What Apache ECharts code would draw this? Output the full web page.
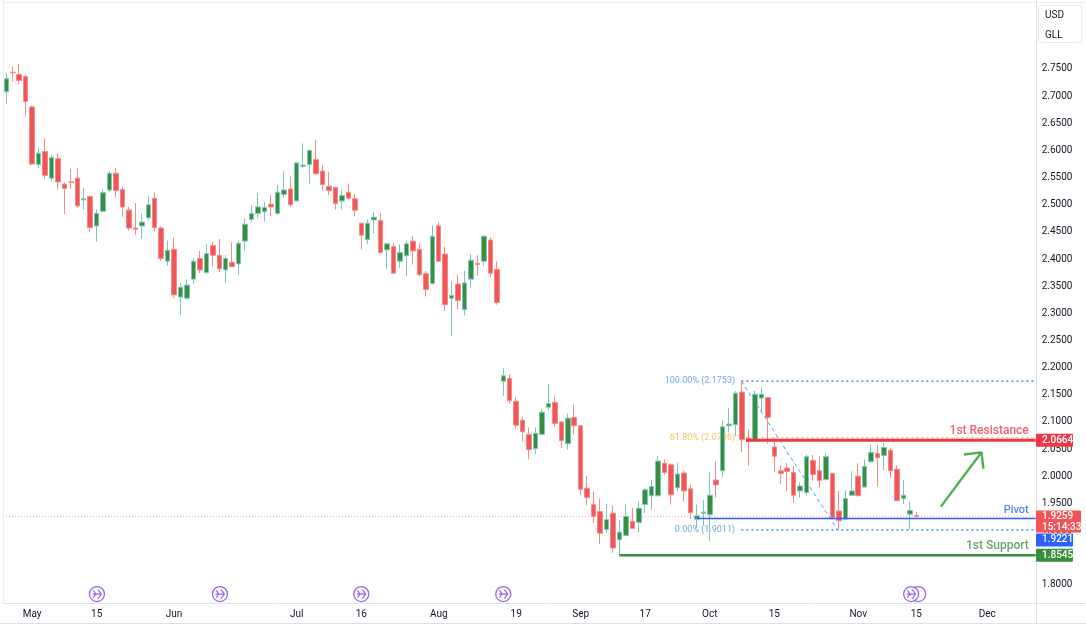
<!DOCTYPE html>
<html>
<head>
<meta charset="utf-8">
<title>USD/GLL</title>
<style>
  html, body { margin: 0; padding: 0; background: #fff; }
  #chart { width: 1086px; height: 625px; }
</style>
<script src="https://cdn.jsdelivr.net/npm/echarts@6/dist/echarts.min.js"></script>
</head>
<body>
<div id="chart"></div>
<script>
var opens = [
  2.708, 2.744, 2.740, 2.736, 2.680, 2.574, 2.598, 2.549, 2.585, 2.538, 2.542, 2.549, 2.509, 2.515, 2.461, 2.488, 2.527, 2.558, 2.528, 2.490,
  2.457, 2.461, 2.476, 2.512, 2.457, 2.396, 2.418, 2.330, 2.328, 2.363, 2.401, 2.375, 2.425, 2.407, 2.380, 2.394, 2.391, 2.433, 2.473, 2.484,
  2.487, 2.501, 2.484, 2.519, 2.529, 2.507, 2.571, 2.574, 2.583, 2.562, 2.534, 2.532, 2.507, 2.523, 2.511, 2.466, 2.436, 2.472, 2.471, 2.417,
  2.423, 2.396, 2.406, 2.433, 2.418, 2.373, 2.355, 2.461, 2.409, 2.328, 2.354, 2.307, 2.363, 2.392, 2.396, 2.435, 2.381, 2.175, 2.180, 2.138,
  2.103, 2.077, 2.051, 2.077, 2.127, 2.136, 2.100, 2.060, 2.108, 2.093, 1.978, 1.948, 1.935, 1.902, 1.932, 1.883, 1.891, 1.917, 1.915, 1.948,
  1.964, 1.964, 2.024, 2.021, 1.979, 2.006, 1.977, 1.921, 1.932, 1.929, 1.993, 2.010, 2.093, 2.095, 2.155, 2.070, 2.065, 2.144, 2.145, 2.054,
  2.010, 2.015, 2.007, 1.973, 1.970, 2.029, 2.010, 1.994, 2.005, 1.936, 1.921, 1.965, 2.000, 1.980, 2.027, 2.042, 2.038, 2.048, 2.013, 1.959,
  1.930, 1.9275
];
var closes = [
  2.732, 2.743, 2.729, 2.690, 2.575, 2.595, 2.554, 2.587, 2.542, 2.530, 2.541, 2.498, 2.511, 2.458, 2.484, 2.522, 2.558, 2.526, 2.496, 2.457,
  2.455, 2.468, 2.500, 2.458, 2.401, 2.416, 2.334, 2.348, 2.352, 2.396, 2.380, 2.410, 2.407, 2.382, 2.401, 2.386, 2.429, 2.464, 2.484, 2.496,
  2.495, 2.496, 2.523, 2.527, 2.500, 2.577, 2.573, 2.600, 2.557, 2.537, 2.526, 2.502, 2.517, 2.512, 2.490, 2.444, 2.466, 2.477, 2.412, 2.428,
  2.374, 2.412, 2.428, 2.415, 2.371, 2.344, 2.442, 2.396, 2.316, 2.333, 2.324, 2.356, 2.398, 2.390, 2.442, 2.374, 2.320, 2.185, 2.139, 2.094,
  2.082, 2.049, 2.079, 2.118, 2.134, 2.097, 2.066, 2.107, 2.093, 1.976, 1.961, 1.926, 1.895, 1.920, 1.868, 1.897, 1.926, 1.904, 1.941, 1.975,
  1.981, 2.028, 2.007, 1.966, 2.004, 1.973, 1.933, 1.927, 1.934, 1.965, 1.984, 2.091, 2.096, 2.153, 2.067, 2.064, 2.151, 2.151, 2.108, 2.037,
  2.005, 2.009, 1.965, 1.982, 2.036, 2.003, 1.992, 2.036, 1.924, 1.918, 1.959, 1.973, 1.964, 2.018, 2.044, 2.034, 2.053, 2.010, 1.955, 1.965,
  1.937, 1.9259
];
var lows = [
  2.686, 2.727, 2.722, 2.662, 2.573, 2.567, 2.548, 2.544, 2.528, 2.483, 2.530, 2.495, 2.491, 2.450, 2.432, 2.488, 2.523, 2.513, 2.478, 2.452,
  2.444, 2.437, 2.472, 2.452, 2.397, 2.388, 2.329, 2.297, 2.325, 2.354, 2.374, 2.373, 2.385, 2.376, 2.356, 2.385, 2.371, 2.415, 2.468, 2.476,
  2.469, 2.480, 2.482, 2.513, 2.496, 2.507, 2.568, 2.539, 2.555, 2.526, 2.518, 2.491, 2.491, 2.509, 2.479, 2.418, 2.428, 2.447, 2.412, 2.382,
  2.373, 2.384, 2.368, 2.390, 2.368, 2.331, 2.353, 2.395, 2.304, 2.258, 2.307, 2.296, 2.346, 2.369, 2.387, 2.367, 2.316, 2.148, 2.134, 2.088,
  2.064, 2.031, 2.040, 2.076, 2.122, 2.091, 2.052, 2.049, 2.078, 1.965, 1.946, 1.914, 1.875, 1.896, 1.859, 1.854, 1.890, 1.903, 1.897, 1.932,
  1.938, 1.963, 2.003, 1.948, 1.973, 1.953, 1.921, 1.905, 1.910, 1.881, 1.961, 1.998, 2.081, 2.074, 2.045, 2.019, 2.064, 2.118, 2.060, 2.008,
  1.986, 1.973, 1.951, 1.961, 1.964, 1.992, 1.979, 1.992, 1.921, 1.902, 1.921, 1.964, 1.964, 1.980, 2.025, 1.981, 2.011, 1.997, 1.955, 1.949,
  1.902, 1.924
];
var highs = [
  2.743, 2.755, 2.760, 2.740, 2.683, 2.606, 2.622, 2.592, 2.595, 2.541, 2.566, 2.567, 2.531, 2.517, 2.491, 2.528, 2.562, 2.567, 2.533, 2.496,
  2.503, 2.484, 2.517, 2.523, 2.460, 2.434, 2.439, 2.356, 2.363, 2.402, 2.415, 2.428, 2.431, 2.437, 2.407, 2.431, 2.434, 2.475, 2.499, 2.521,
  2.505, 2.518, 2.536, 2.562, 2.552, 2.578, 2.613, 2.602, 2.620, 2.573, 2.560, 2.533, 2.528, 2.539, 2.519, 2.466, 2.473, 2.487, 2.485, 2.430,
  2.430, 2.427, 2.434, 2.442, 2.429, 2.378, 2.462, 2.468, 2.423, 2.360, 2.372, 2.378, 2.409, 2.407, 2.444, 2.440, 2.395, 2.199, 2.188, 2.145,
  2.110, 2.090, 2.090, 2.124, 2.170, 2.147, 2.102, 2.115, 2.132, 2.093, 2.000, 1.972, 1.959, 1.949, 1.946, 1.919, 1.948, 1.942, 1.954, 1.979,
  1.993, 2.037, 2.031, 2.024, 2.024, 2.010, 1.985, 1.948, 1.956, 2.007, 2.027, 2.103, 2.125, 2.157, 2.175, 2.086, 2.157, 2.164, 2.146, 2.071,
  2.021, 2.024, 2.019, 1.988, 2.040, 2.039, 2.037, 2.042, 2.006, 1.973, 1.974, 2.009, 2.024, 2.031, 2.059, 2.057, 2.061, 2.053, 2.020, 1.993,
  1.954, 1.934
];

var slotCount = 160; // candles plus empty space on the right
var tickSlots = [4, 14, 26, 45, 55, 67, 79, 89, 99, 109, 119, 132, 141, 152];
var tickLabels = ['May', '15', 'Jun', 'Jul', '16', 'Aug', '19', 'Sep', '17', 'Oct', '15', 'Nov', '15', 'Dec'];
var priceTicks = [1.80, 1.85, 1.90, 1.95, 2.00, 2.05, 2.10, 2.15, 2.20, 2.25, 2.30, 2.35, 2.40, 2.45, 2.50, 2.55, 2.60, 2.65, 2.70, 2.75];

var resistance = 2.0664;
var pivot = 1.9221;
var support = 1.8545;
var lastPrice = 1.9259;
var fib100 = 2.1753;
var fib618 = 2.0706;
var fib0 = 1.9011;
var countdown = '15:14:33';
var eventSlots = [14.05, 33.1, 55, 77, 141.3, 140.2];
var arrowShaft = [[144.8, 1.944], [151.1, 2.044]];
var arrowHead = [[148.4, 2.040], [151.1, 2.044], [151.4, 2.014]];

var BLUE = '#5b9cf6';
var RED = '#f23645';
var GREEN = '#388e3c';
var FONT = 'Roboto, "Noto Sans", sans-serif';

var chart = echarts.init(document.getElementById('chart'));

var categories = [];
var candles = [];
for (var i = 0; i < slotCount; i++) {
  categories.push(String(i));
  if (i < opens.length) candles.push([opens[i], closes[i], lows[i], highs[i]]);
}

function lineMark(points, color, width, type, z) {
  return {
    type: 'line', xAxisIndex: 1, data: points, symbol: 'none', silent: true, z: z,
    lineStyle: { color: color, width: width, type: type }
  };
}

function textMark(x, y, text, color, size, weight, z) {
  return {
    type: 'scatter', xAxisIndex: 1, data: [[x, y]], symbolSize: 1, silent: true, z: z,
    itemStyle: { color: 'transparent' },
    label: {
      show: true, position: 'left', distance: 0, formatter: text,
      color: color, fontSize: size, fontWeight: weight, fontFamily: FONT
    }
  };
}

var END = slotCount - 0.5;
var eventData = eventSlots.map(function (s) { return [s, 1.783]; });

var option = {
  animation: false,
  backgroundColor: '#ffffff',
  grid: { left: 3.07, top: 4, width: 1032.64, height: 600 },
  xAxis: [
    {
      type: 'category', data: categories,
      axisLine: { show: false }, axisTick: { show: false }, splitLine: { show: false },
      axisLabel: {
        margin: 5, fontSize: 10, color: '#131722', fontFamily: FONT, hideOverlap: false,
        interval: function (index) { return tickSlots.indexOf(index) >= 0; },
        formatter: function (value, index) { return tickLabels[tickSlots.indexOf(index)]; }
      }
    },
    { type: 'value', show: false, min: -0.5, max: END, splitLine: { show: false } }
  ],
  yAxis: {
    type: 'value', position: 'right', min: 1.7647, max: 2.8697,
    axisLine: { show: false }, axisTick: { show: false }, splitLine: { show: false },
    axisLabel: {
      customValues: priceTicks, margin: 6, fontSize: 10, color: '#131722', fontFamily: FONT, padding: [2, 0, 0, 0],
      formatter: function (v) { return v.toFixed(4); }
    }
  },
  series: [
    // these sit under the candles
    lineMark([[113.9, fib100], [END, fib100]], BLUE, 1.8, [2, 3], 1),
    lineMark([[113.9, fib618], [END, fib618]], '#ffb74d', 1.4, [2, 3], 1),
    lineMark([[113.9, fib0], [END, fib0]], BLUE, 1.8, [2, 3], 1),
    lineMark([[113.9, fib100], [128.8, fib0]], BLUE, 1, [4, 3], 1),
    lineMark([[-0.5, lastPrice], [END, lastPrice]], '#f7a8a8', 1, [1, 2], 1),
    textMark(113, fib100, '100.00% (2.1753)', '#4a90e8', 9, 'normal', 1),
    textMark(113, fib618, '61.80% (2.0706)', '#ffb040', 9, 'normal', 1),
    textMark(113, fib0, '0.00% (1.9011)', '#4a90e8', 9, 'normal', 1),
    {
      type: 'candlestick', xAxisIndex: 0, data: candles, barWidth: 5, silent: true, z: 2,
      itemStyle: {
        color: GREEN, color0: '#f25555',
        borderColor: '#7cc7bb', borderColor0: '#f58a8a', borderWidth: 1
      }
    },
    lineMark([[114.6, resistance], [END, resistance]], RED, 3, 'solid', 3),
    lineMark([[107, pivot], [END, pivot]], '#2962ff', 1.6, 'solid', 3),
    lineMark([[95, support], [END, support]], GREEN, 2.4, 'solid', 3),
    lineMark(arrowShaft, '#4caf50', 2.4, 'solid', 3),
    lineMark(arrowHead, '#4caf50', 2.4, 'solid', 3),
    textMark(158.5, 2.083, '1st Resistance', RED, 12, 500, 3),
    textMark(158.5, 1.9374, 'Pivot', '#2962ff', 11, 500, 3),
    textMark(158.5, 1.8712, '1st Support', GREEN, 12, 500, 3),
    {
      type: 'scatter', xAxisIndex: 1, data: eventData, symbol: 'circle', symbolSize: 15, silent: true, z: 3,
      itemStyle: { color: '#ffffff', borderColor: '#7e3fe6', borderWidth: 1.3 }
    },
    {
      // the ring behind the last one carries no arrow
      type: 'scatter', xAxisIndex: 1, data: eventData.slice(0, 4).concat(eventData.slice(5)),
      symbol: 'path://M1 8H14M9 3L14 8L9 13M2 4L6 8L2 12', symbolSize: 9, silent: true, z: 4,
      itemStyle: { color: 'none', borderColor: '#7e3fe6', borderWidth: 1.2 }
    }
  ]
};

chart.setOption(option);

// chrome around the plot and the price tags on the axis
function priceY(v) {
  return chart.convertToPixel({ yAxisIndex: 0 }, v);
}

function rule(x1, y1, x2, y2, color) {
  return { type: 'line', z: 50, silent: true, shape: { x1: x1, y1: y1, x2: x2, y2: y2 }, style: { stroke: color, lineWidth: 1 } };
}

function tag(top, width, height, fill, lines) {
  var items = [{
    type: 'rect', z: 60, silent: true,
    shape: { x: 1036, y: top, width: width, height: height, r: 1 },
    style: { fill: fill }
  }];
  lines.forEach(function (text, n) {
    items.push({
      type: 'text', z: 61, silent: true, x: 1042, y: top + 6.5 + n * 10.5,
      style: { text: text, fill: '#ffffff', fontSize: 10, fontWeight: 500, fontFamily: FONT, verticalAlign: 'middle' }
    });
  });
  return items;
}

var lastY = priceY(lastPrice);
var elements = [
  rule(3.5, 0, 3.5, 603, '#eceef2'),
  rule(3, 2.5, 1086, 2.5, '#eceef2'),
  rule(3, 603.5, 1086, 603.5, '#e0e3eb'),
  rule(1036.5, 0, 1036.5, 623, '#e0e3eb'),
  rule(0, 623.5, 1086, 623.5, '#d6e2f0'),
  {
    type: 'rect', z: 50, silent: true,
    shape: { x: 1038.5, y: 5.5, width: 43, height: 37, r: 3 },
    style: { fill: '#ffffff', stroke: '#e8eaef', lineWidth: 1 }
  },
  { type: 'text', z: 51, silent: true, x: 1045, y: 15, style: { text: 'USD', fill: '#131722', fontSize: 10, fontFamily: FONT, verticalAlign: 'middle' } },
  { type: 'text', z: 51, silent: true, x: 1045, y: 35, style: { text: 'GLL', fill: '#131722', fontSize: 10, fontFamily: FONT, verticalAlign: 'middle' } }
];
elements = elements
  .concat(tag(priceY(resistance) - 6.5, 37, 13, RED, [resistance.toFixed(4)]))
  .concat(tag(lastY - 6, 45, 22, '#f25555', [lastPrice.toFixed(4), countdown]))
  .concat(tag(lastY + 17, 37, 13, '#2962ff', [pivot.toFixed(4)]))
  .concat(tag(priceY(support) - 6.5, 37, 13, GREEN, [support.toFixed(4)]));

chart.setOption({ graphic: { elements: elements } });
</script>
</body>
</html>
